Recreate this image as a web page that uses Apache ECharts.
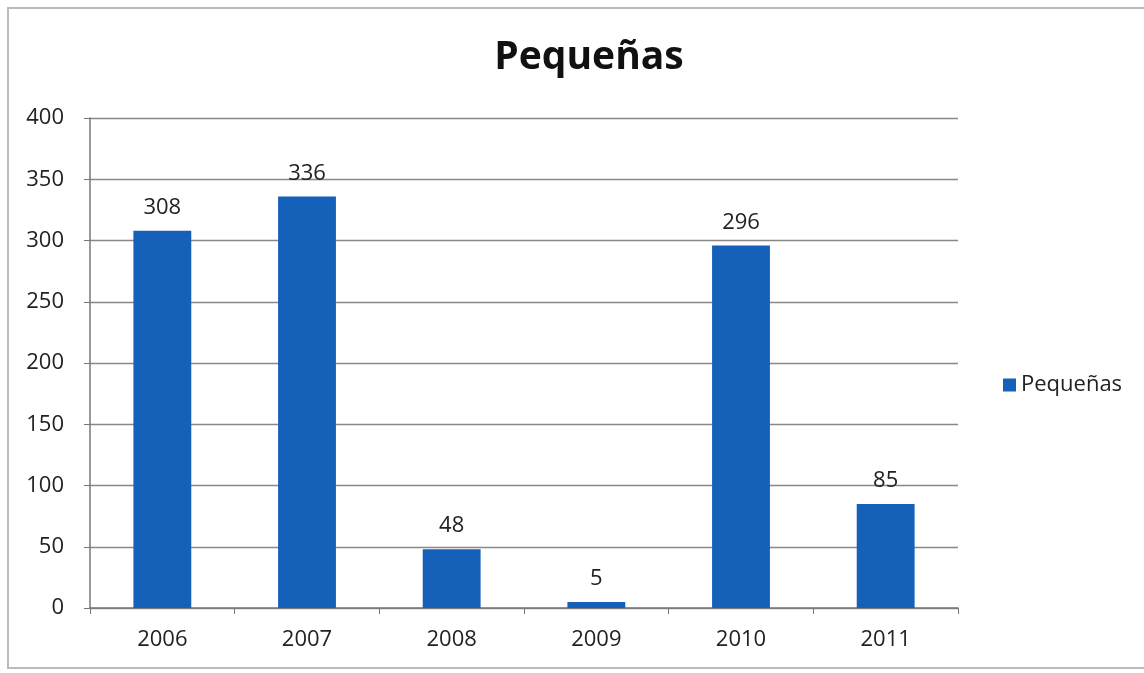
<!DOCTYPE html>
<html><head><meta charset="utf-8">
<script src="https://cdn.jsdelivr.net/npm/echarts@6/dist/echarts.min.js"></script>
<style>html,body{margin:0;padding:0;background:#fff}#c{width:1144px;height:673px}</style>
</head><body><div id="c"></div>
<script>
const categories = ['2006','2007','2008','2009','2010','2011'];
const values = [308, 336, 48, 5, 296, 85];
const seriesName = 'Pequeñas';
const titleText = 'Pequeñas';

const chart = echarts.init(document.getElementById('c'));
const font = '"Open Sans", "Liberation Sans", sans-serif';
chart.setOption({
  backgroundColor: '#fff',
  animation: false,
  graphic: [{type:'rect', shape:{x:8,y:8,width:1140,height:660}, style:{fill:'none', stroke:'#b8bcc2', lineWidth:2}}],
  title: {text: titleText, left: 584, top: 33, textAlign: 'center',
    textStyle: {fontFamily: font, fontSize: 39, fontWeight: 'bold', color: '#111'}},
  legend: {data:[seriesName], left: 998, top: 369, itemWidth: 13, itemHeight: 13, itemGap: 8,
    icon: 'rect', textStyle: {fontFamily: font, fontSize: 22, color: '#222'}},
  grid: {left: 90, right: 186, top: 118, bottom: 65, containLabel: false},
  xAxis: {type: 'category', data: categories,
    axisLine: {lineStyle: {color: '#777', width: 1.5}},
    axisTick: {show: true, alignWithLabel: false, length: 6, lineStyle: {color: '#777'}},
    axisLabel: {fontFamily: font, fontSize: 22, color: '#222', margin: 21}},
  yAxis: {type: 'value', min: 0, max: 400, interval: 50,
    axisLine: {show: true, lineStyle: {color: '#777', width: 1.5}},
    axisTick: {show: true, length: 6, lineStyle: {color: '#777'}},
    splitLine: {lineStyle: {color: '#888', width: 1.3}},
    axisLabel: {fontFamily: font, fontSize: 22, color: '#222', margin: 26}},
  series: [{name: seriesName, type: 'bar', data: values, barWidth: '40%',
    itemStyle: {color: '#1561b9'},
    label: {show: true, position: 'top', distance: 12, fontFamily: font, fontSize: 22, color: '#222'}}]
});
</script></body></html>
